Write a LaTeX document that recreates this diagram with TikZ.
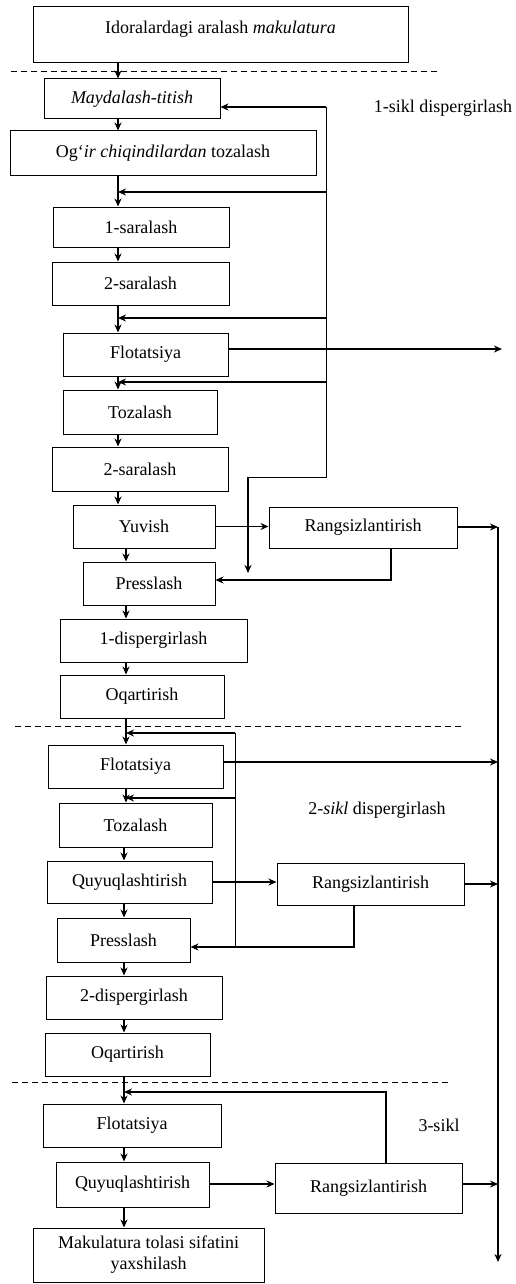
\documentclass[tikz,border=0pt]{standalone}
\usepackage{fontspec}
\setmainfont{Liberation Serif}
\usetikzlibrary{arrows.meta}

\begin{document}
\begin{tikzpicture}[x=1pt, y=-1pt, >={Stealth[length=8pt,width=7pt]},
  blok/.style={draw, line width=1pt, inner sep=2pt, font=\fontsize{18}{21}\selectfont},
  izoh/.style={font=\fontsize{18}{21}\selectfont},
  oqim/.style={->, line width=1.2pt}]
  \useasboundingbox (0,0) rectangle (516,1284);
  % bosqichlar
  \node[blok, minimum width=375, minimum height=56, inner ysep=3pt, text height=24pt, text depth=26pt] (idora) at (220.5,35) {Idoralardagi aralash \textit{makulatura}};
  \node[blok, minimum width=176, minimum height=40] (mayda) at (132,99) {\textit{Maydalash-titish}};
  \node[blok, minimum width=306, minimum height=45] (ogir) at (163,153.5) {Og‘\textit{ir chiqindilardan} tozalash};
  \node[blok, minimum width=176, minimum height=40] (sara1) at (141,227) {1-saralash};
  \node[blok, minimum width=177, minimum height=43] (sara2) at (140.5,283.5) {2-saralash};
  \node[blok, minimum width=165, minimum height=43] (flot1) at (145.5,354.5) {Flotatsiya};
  \node[blok, minimum width=154, minimum height=44] (toza1) at (140,412) {Tozalash};
  \node[blok, minimum width=176, minimum height=44] (sara3) at (140,469) {2-saralash};
  \node[blok, minimum width=142, minimum height=43] (yuvi) at (144,526.5) {Yuvish};
  \node[blok, minimum width=188, minimum height=41] (rang1) at (363,527.5) {Rangsizlantirish};
  \node[blok, minimum width=132, minimum height=43] (pres1) at (149,583.5) {Presslash};
  \node[blok, minimum width=187, minimum height=43] (disp1) at (153.5,640.5) {1-dispergirlash};
  \node[blok, minimum width=164, minimum height=43] (oqar1) at (142,696.5) {Oqartirish};
  \node[blok, minimum width=175, minimum height=43] (flot2) at (135.5,766.5) {Flotatsiya};
  \node[blok, minimum width=153, minimum height=44] (toza2) at (135.5,825) {Tozalash};
  \node[blok, minimum width=165, minimum height=42] (quyu2) at (129.5,882) {Quyuqlashtirish};
  \node[blok, minimum width=187, minimum height=42] (rang2) at (370.5,884) {Rangsizlantirish};
  \node[blok, minimum width=133, minimum height=44] (pres2) at (123.5,940) {Presslash};
  \node[blok, minimum width=176, minimum height=43] (disp2) at (134,997.5) {2-dispergirlash};
  \node[blok, minimum width=165, minimum height=43] (oqar2) at (127.5,1054.5) {Oqartirish};
  \node[blok, minimum width=178, minimum height=43] (flot3) at (132,1125.5) {Flotatsiya};
  \node[blok, minimum width=153, minimum height=45] (quyu3) at (132.5,1184.5) {Quyuqlashtirish};
  \node[blok, minimum width=187, minimum height=50] (rang3) at (368.5,1188) {Rangsizlantirish};
  \node[blok, minimum width=231, minimum height=54, align=center] (yaxshi) at (148.5,1255) {Makulatura tolasi sifatini\\yaxshilash};

  % sikl nomlari
  \node[izoh] (sikl1) at (443,108) {1-sikl dispergirlash};
  \node[izoh] (sikl2) at (377,810) {2-\textit{sikl} dispergirlash};
  \node[izoh] (sikl3) at (439,1125) {3-sikl};

  % sikllar chegarasi
  \draw[dash pattern=on 6pt off 4pt, line width=0.9pt] (11,71) -- (438,71);
  \draw[dash pattern=on 6pt off 4pt, line width=0.9pt] (15,726) -- (462,726);
  \draw[dash pattern=on 6pt off 4pt, line width=0.9pt] (12,1082) -- (448,1082);

  % asosiy oqim
  \coordinate (xa) at (118,0);
  \coordinate (xb) at (126,0);
  \coordinate (xc) at (124,0);
  \draw[oqim] (idora.south -| xa) -- (mayda.north -| xa);
  \draw[oqim] (mayda.south -| xa) -- (ogir.north -| xa);
  \draw[oqim] (ogir.south -| xa) -- (sara1.north -| xa);
  \draw[oqim] (sara1.south -| xa) -- (sara2.north -| xa);
  \draw[oqim] (sara2.south -| xa) -- (flot1.north -| xa);
  \draw[oqim] (flot1.south -| xa) -- (toza1.north -| xa);
  \draw[oqim] (toza1.south -| xa) -- (sara3.north -| xa);
  \draw[oqim] (sara3.south -| xa) -- (yuvi.north -| xa);
  \draw[oqim] (yuvi.south -| xb) -- (pres1.north -| xb);
  \draw[oqim] (pres1.south -| xb) -- (disp1.north -| xb);
  \draw[oqim] (disp1.south -| xb) -- (oqar1.north -| xb);
  \draw[oqim] (oqar1.south -| xb) -- (flot2.north -| xb);
  \draw[oqim] (flot2.south -| xb) -- (toza2.north -| xb);
  \draw[oqim] (toza2.south -| xc) -- (quyu2.north -| xc);
  \draw[oqim] (quyu2.south -| xc) -- (pres2.north -| xc);
  \draw[oqim] (pres2.south -| xc) -- (disp2.north -| xc);
  \draw[oqim] (disp2.south -| xc) -- (oqar2.north -| xc);
  \draw[oqim] (oqar2.south -| xc) -- (flot3.north -| xc);
  \draw[oqim] (flot3.south -| xc) -- (quyu3.north -| xc);
  \draw[oqim] (quyu3.south -| xc) -- (yaxshi.north -| xc);

  % 1-sikl qaytish
  \coordinate (q1) at (326,107);
  \coordinate (q2) at (326,192);
  \coordinate (q3) at (326,318);
  \coordinate (q4) at (326,382);
  \coordinate (q5) at (326,477);
  \coordinate (q6) at (248,477);
  \coordinate (q7) at (248,573);
  \draw[line width=1pt] (q1) -- (q5) -- (q6);
  \draw[oqim] (q6) -- (q7);
  \draw[oqim] (q1) -- (mayda.east |- q1);
  \draw[oqim] (q2) -- (q2 -| xa);
  \draw[oqim] (q3) -- (q3 -| xa);
  \draw[oqim] (q4) -- (q4 -| xa);
  \coordinate (chiq1) at (502,349);
  \draw[oqim] (flot1.east |- chiq1) -- (chiq1);
  \draw[oqim] (yuvi.east) -- (yuvi.east -| rang1.west);
  \coordinate (g1) at (391,580);
  \draw[oqim] (rang1.south -| g1) -- (g1) -- (pres1.east |- g1);

  % o'ng tomondagi umumiy chiziq
  \coordinate (b1) at (498,527);
  \coordinate (b2) at (498,1262);
  \draw[oqim] (b1) -- (b2);
  \draw[oqim] (rang1.east |- b1) -- (b1);
  \coordinate (h2) at (498,762);
  \draw[oqim] (flot2.east |- h2) -- (h2);
  \draw[oqim] (quyu2.east) -- (quyu2.east -| rang2.west);
  \draw[oqim] (rang2.east) -- (rang2.east -| b1);
  \coordinate (h3) at (498,1184);
  \draw[oqim] (quyu3.east |- h3) -- (rang3.west |- h3);
  \draw[oqim] (rang3.east |- h3) -- (h3);

  % 2-sikl qaytish
  \coordinate (k1) at (235,733);
  \coordinate (k2) at (235,798);
  \coordinate (k3) at (235,947);
  \draw[line width=1pt] (k1) -- (k3);
  \draw[oqim] (k1) -- (k1 -| xb);
  \draw[oqim] (k2) -- (k2 -| xb);
  \coordinate (g2) at (354,947);
  \draw[oqim] (rang2.south -| g2) -- (g2) -- (pres2.east |- g2);

  % 3-sikl qaytish
  \coordinate (m1) at (386,1092);
  \draw[oqim] (rang3.north -| m1) -- (m1) -- (m1 -| xc);
\end{tikzpicture}
\end{document}
